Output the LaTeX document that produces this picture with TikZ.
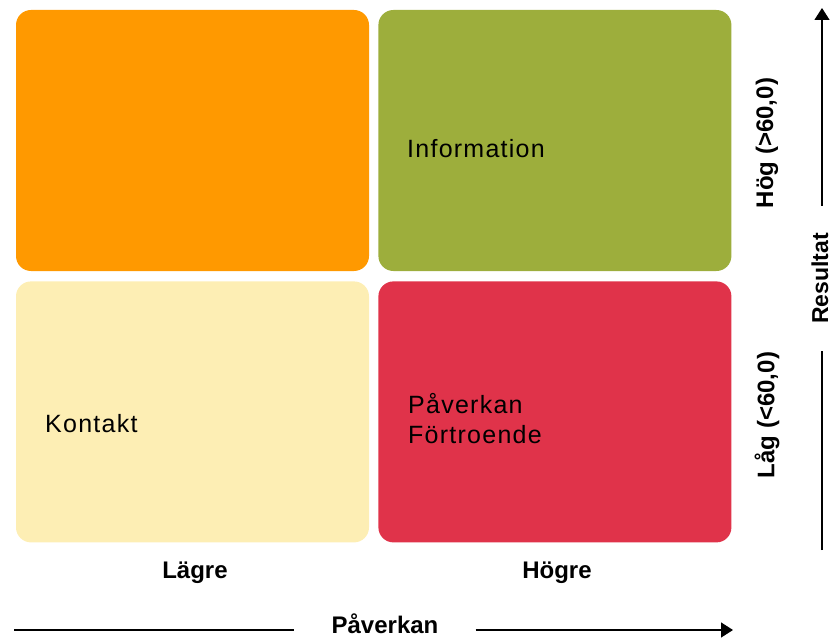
\documentclass[tikz,border=0pt]{standalone}
\usepackage{fontspec}
\setmainfont{Liberation Sans}
\usepackage{tikz}
\usetikzlibrary{arrows.meta, positioning}
\usepackage{xcolor}
\definecolor{Orange}{RGB}{255, 153, 0}
\definecolor{Olive}{RGB}{157, 174, 60}
\definecolor{Cream}{RGB}{253, 238, 180}
\definecolor{Crimson}{RGB}{224, 51, 74}
\definecolor{RichBlack}{RGB}{0, 0, 0}
\tikzset{%
  quadrant/.style={%
    rectangle,%
    rounded corners=15pt,%
    minimum width=353pt,%
    minimum height=261pt,%
    draw=none,%
    inner sep=0pt%
  },
  quad_text/.style={%
    font={\fontsize{25}{30}\selectfont\addfontfeatures{LetterSpace=5}},%
    color=RichBlack,%
    inner sep=0pt,%
    align=left%
  },
  axis_label/.style={%
    font={\fontsize{24}{28}\selectfont\bfseries},%
    color=RichBlack,%
    inner sep=0pt%
  },
  axis_path/.style={%
    color=RichBlack,%
    line width=1.3pt%
  },
  arrow/.style={-{Triangle[length=12pt, width=15pt]}},
}
\begin{document}
\begin{tikzpicture}[x=1pt, y=-1pt]
  \useasboundingbox (0,0) rectangle (835,639);

  % the four fields
  \node [quadrant, fill=Orange] (TopLeft) at (192.5,140.5) {};
  \node [quadrant, fill=Olive, right = 9pt of TopLeft] (TopRight) {};
  \node [quadrant, fill=Cream, below = 10pt of TopLeft] (BottomLeft) {};
  \node [quadrant, fill=Crimson, below = 10pt of TopRight] (BottomRight) {};

  \node [quad_text, anchor=base west] (Information) at (407,158) {Information};
  \node [quad_text, anchor=base west] (Kontakt) at (45,432) {Kontakt};
  \node [quad_text, anchor=north west] (Paverkan) at (408,393) {Påverkan\\Förtroende};

  % column labels
  \node [axis_label, anchor=base] (Lagre) at (195,578) {Lägre};
  \node [axis_label, anchor=base] (Hogre) at (557,578) {Högre};

  % row labels
  \node [axis_label, rotate=90] (Hog) at (767,143) {Hög (>60,0)};
  \node [axis_label, rotate=90] (Lag) at (767,415) {Låg (<60,0)};

  % horizontal axis
  \node [axis_label, inner xsep=37pt, anchor=base] (x_label) at (385,633) {Påverkan};
  \coordinate (x_start) at (14,630);
  \coordinate (x_end) at (733,630);
  \draw [axis_path] (x_start) -- (x_label.west |- x_start);
  \draw [axis_path, arrow] (x_label.east |- x_end) -- (x_end);

  % vertical axis
  \node [axis_label, font={\fontsize{23}{28}\selectfont\bfseries},
    rotate=90, inner xsep=27pt] (y_label) at (820,278.5) {Resultat};
  \coordinate (y_start) at (822,550);
  \coordinate (y_end) at (822,8);
  \draw [axis_path] (y_start) -- (y_label.west -| y_start);
  \draw [axis_path, arrow] (y_label.east -| y_end) -- (y_end);
\end{tikzpicture}
\end{document}
